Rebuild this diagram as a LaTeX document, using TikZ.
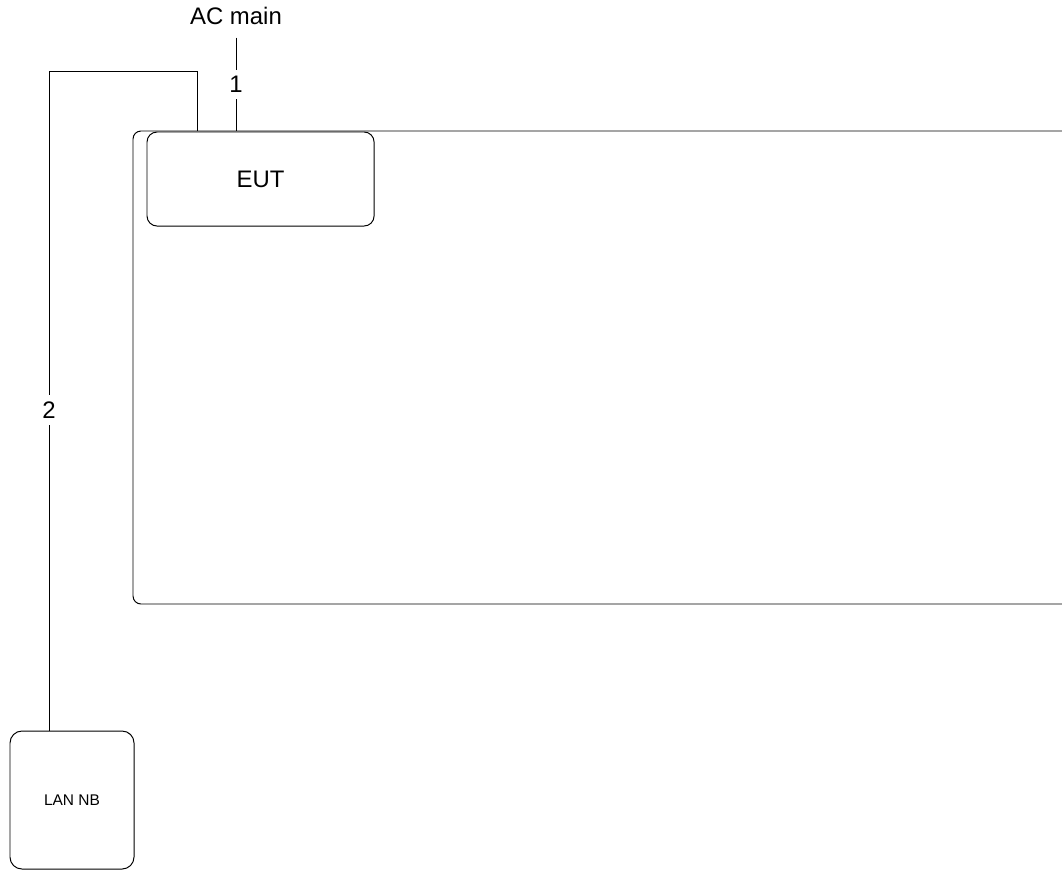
\documentclass[tikz,border=0pt]{standalone}
\usepackage{fontspec}
\setmainfont{Liberation Sans}
\usetikzlibrary{positioning}

\tikzset{
  unitbox/.style={draw, rounded corners=0.25cm, inner sep=0pt, outer sep=0pt, anchor=north west},
  cablelbl/.style={fill=white, inner sep=0.16cm},
}

\begin{document}
\begin{tikzpicture}[x=0.025cm, y=-0.025cm, line width=0.7pt, font=\fontsize{17}{20}\selectfont]
    \useasboundingbox (0,0) rectangle (1062,872);
    % table frame, runs off on the right
    \draw[rounded corners=0.2cm] (1062,131) -- (133,131) -- (133,604) -- (1062,604);
    \node[unitbox, minimum width=5.675cm, minimum height=2.35cm] (eut) at (147,132) {EUT};
    \node[unitbox, rounded corners=0.3cm, minimum width=3.1cm, minimum height=3.45cm,
          font=\fontsize{11}{13}\selectfont] (lan) at (10,731) {LAN NB};
    \node[inner sep=0.32cm] (ac) at (236,15.5) {AC main};
    \coordinate (p1) at (236,131);
    \coordinate (p2) at (197,131);
    \draw (ac) -- node[cablelbl] {1} (p1);
    \draw (p2) -- ++(0,-60) -| node[cablelbl, pos=0.757] {2} ([xshift=0.975cm]lan.north west);
\end{tikzpicture}
\end{document}
